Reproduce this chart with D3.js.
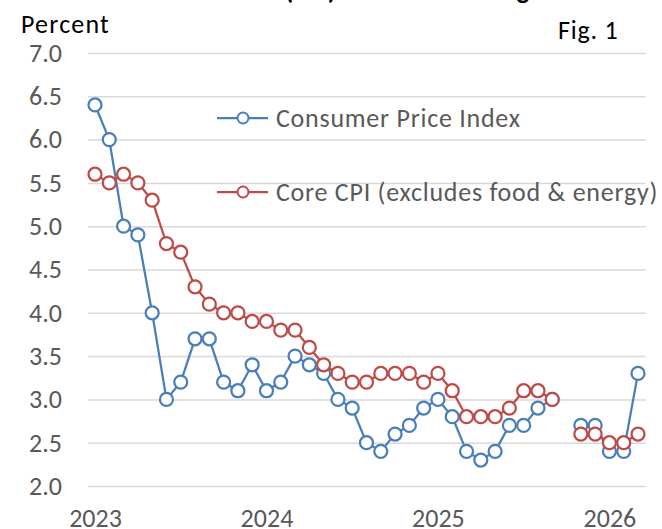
<!DOCTYPE html>
<html>
<head>
<meta charset="utf-8">
<script src="https://cdn.jsdelivr.net/npm/d3@7"></script>
<style>
  body { margin: 0; background: #fff; }
  svg { display: block; font-family: Carlito, Calibri, Lato, sans-serif; }
</style>
</head>
<body>
<div id="d3-container"></div>
<script>
//Datos: variación interanual, enero 2023 a marzo 2026 (octubre 2025 sin dato)
const meses = [
  'Jan 2023','Feb 2023','Mar 2023','Apr 2023','May 2023','Jun 2023','Jul 2023','Aug 2023','Sep 2023','Oct 2023','Nov 2023','Dec 2023',
  'Jan 2024','Feb 2024','Mar 2024','Apr 2024','May 2024','Jun 2024','Jul 2024','Aug 2024','Sep 2024','Oct 2024','Nov 2024','Dec 2024',
  'Jan 2025','Feb 2025','Mar 2025','Apr 2025','May 2025','Jun 2025','Jul 2025','Aug 2025','Sep 2025','Oct 2025','Nov 2025','Dec 2025',
  'Jan 2026','Feb 2026','Mar 2026'
];
const cpi = [
  6.4, 6.0, 5.0, 4.9, 4.0, 3.0, 3.2, 3.7, 3.7, 3.2, 3.1, 3.4,
  3.1, 3.2, 3.5, 3.4, 3.3, 3.0, 2.9, 2.5, 2.4, 2.6, 2.7, 2.9,
  3.0, 2.8, 2.4, 2.3, 2.4, 2.7, 2.7, 2.9, 3.0, null, 2.7, 2.7,
  2.4, 2.4, 3.3
];
const core = [
  5.6, 5.5, 5.6, 5.5, 5.3, 4.8, 4.7, 4.3, 4.1, 4.0, 4.0, 3.9,
  3.9, 3.8, 3.8, 3.6, 3.4, 3.3, 3.2, 3.2, 3.3, 3.3, 3.3, 3.2,
  3.3, 3.1, 2.8, 2.8, 2.8, 2.9, 3.1, 3.1, 3.0, null, 2.6, 2.6,
  2.5, 2.5, 2.6
];
const ticksY = [2.0, 2.5, 3.0, 3.5, 4.0, 4.5, 5.0, 5.5, 6.0, 6.5, 7.0];
const ticksX = [0, 12, 24, 36];
const etiquetasX = ['2023', '2024', '2025', '2026'];
const series = [
  { nombre: 'Consumer Price Index', valores: cpi, color: '#4A7EBB' },
  { nombre: 'Core CPI (excludes food & energy)', valores: core, color: '#BE4B48' }
];

const width = 662;
const height = 529;
const plot = { left: 88, right: 646, top: 53, bottom: 486 };

const svg = d3.select('#d3-container')
  .append('svg')
  .attr('width', width)
  .attr('height', height)
  .attr('viewBox', [0, 0, width, height]);

//Escalas
const x = d3.scaleLinear()
  .domain([0, meses.length - 1])
  .range([95, 638]);

const y = d3.scaleLinear()
  .domain([2, 7])
  .range([plot.bottom, plot.top]);

//Eje Y con rejilla
svg.append('g')
  .attr('transform', `translate(${plot.left},0)`)
  .call(d3.axisLeft(y).tickValues(ticksY).tickFormat(d3.format('.1f'))
    .tickSize(-(plot.right - plot.left)).tickPadding(26))
  .call(g => g.select('.domain').remove())
  .call(g => g.selectAll('line').attr('stroke', '#D9D9D9').attr('stroke-width', 1.5))
  .call(g => g.selectAll('text').attr('fill', '#595959').attr('font-size', 26)
    .attr('font-family', 'Carlito, Calibri, Lato, sans-serif'));

//Eje X
svg.append('g')
  .attr('transform', `translate(0,${plot.bottom})`)
  .call(d3.axisBottom(x).tickValues(ticksX).tickFormat((d, i) => etiquetasX[i]).tickSize(0))
  .call(g => g.select('.domain').remove())
  .call(g => g.selectAll('text').attr('fill', '#595959').attr('font-size', 26)
    .attr('font-family', 'Carlito, Calibri, Lato, sans-serif')
    .attr('dy', 0).attr('y', 41));

//Líneas y marcadores
const linea = d3.line()
  .defined(d => d != null)
  .x((d, i) => x(i))
  .y(d => y(d));

series.forEach(s => {
  svg.append('path')
    .datum(s.valores)
    .attr('fill', 'none')
    .attr('stroke', s.color)
    .attr('stroke-width', 2.25)
    .attr('stroke-linejoin', 'round')
    .attr('d', linea);

  svg.append('g')
    .selectAll('circle')
    .data(s.valores.map((v, i) => ({ v, i })).filter(d => d.v != null))
    .join('circle')
    .attr('cx', d => x(d.i))
    .attr('cy', d => y(d.v))
    .attr('r', 6.5)
    .attr('fill', '#fff')
    .attr('stroke', s.color)
    .attr('stroke-width', 2.25);
});

//Leyenda
const leyenda = svg.append('g')
  .selectAll('g')
  .data(series)
  .join('g')
  .attr('transform', (d, i) => `translate(217,${118 + i * 74})`);

leyenda.append('line')
  .attr('x1', 0).attr('x2', 51)
  .attr('stroke', d => d.color)
  .attr('stroke-width', 2.25);

leyenda.append('circle')
  .attr('cx', 26).attr('r', 5.5)
  .attr('fill', '#fff')
  .attr('stroke', d => d.color)
  .attr('stroke-width', 2);

leyenda.append('text')
  .attr('x', 59).attr('y', 9)
  .attr('font-size', 26)
  .attr('letter-spacing', 0.75)
  .attr('fill', '#595959')
  .text(d => d.nombre);

//Textos
svg.append('text')
  .attr('x', 21).attr('y', 33)
  .attr('font-size', 26)
  .attr('letter-spacing', 1.2)
  .attr('fill', '#000')
  .text('Percent');

svg.append('text')
  .attr('x', 558).attr('y', 39)
  .attr('font-size', 26)
  .attr('letter-spacing', 0.8)
  .attr('fill', '#000')
  .text('Fig. 1');

//Título (recortado por arriba, como en la imagen)
const titulo = svg.append('text')
  .attr('y', -1)
  .attr('font-size', 26)
  .attr('font-weight', 'bold')
  .attr('fill', '#000')
  .text('Consumer Price Index (CPI): 12-Month Change');
const antes = titulo.node().getSubStringLength(0, 21);
titulo.attr('x', 285 - antes);
</script>
</body>
</html>
